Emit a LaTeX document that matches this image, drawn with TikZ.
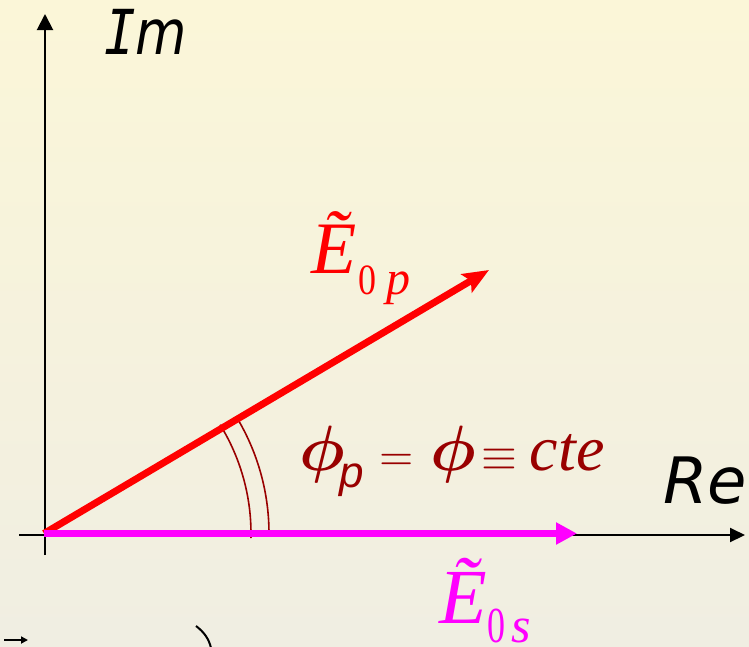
\documentclass[tikz,border=0pt]{standalone}
\usepackage{fontspec}
\usepackage{unicode-math}
\setmainfont{Liberation Serif}
\newfontfamily\verd{DejaVu Sans}
\newfontfamily\verdmono{DejaVu Sans Mono}
\newfontfamily\arialf{Liberation Sans}
\usetikzlibrary{arrows.meta}
\definecolor{bgtop}{HTML}{FBF6D8}
\definecolor{bgbot}{HTML}{F0EEE2}
\definecolor{darkred}{HTML}{990000}
\definecolor{vecred}{HTML}{FF0000}
\definecolor{vecmag}{HTML}{FF00FF}
\tikzset{
  axis/.style={line width=2pt, black},
  lbl/.style={inner sep=0pt, anchor=base west},
  anglearc/.style={line width=1.6pt, darkred},
}
\begin{document}
\begin{tikzpicture}[x=1pt,y=-1pt]
\useasboundingbox (0,0) rectangle (749,646);
\clip (0,0) rectangle (749,646);
\shade[top color=bgtop, bottom color=bgbot] (0,0) rectangle (749,646);
% coordinates
\coordinate (O) at (44,533.5);
\coordinate (ybot) at (45,555);
\coordinate (ytop) at (45,14);
\coordinate (xleft) at (19,535);
\coordinate (xright) at (745,535);
\coordinate (ptip) at (489,270);
\coordinate (stip) at (577,533.5);
% axes
\draw[axis, -{Triangle[length=16pt,width=16pt]}] (ybot) -- (ytop);
\draw[axis, -{Triangle[length=15pt,width=14pt]}] (xleft) -- (xright);
% angle arcs
\draw[anglearc] (O) ++(1.3:207) arc[start angle=1.3, end angle=-31.7, radius=207];
\draw[anglearc] (O) ++(-0.6:225) arc[start angle=-0.6, end angle=-31.4, radius=225];
% vectors
\draw[line width=7pt, vecred, -{Stealth[length=26pt,width=21pt,inset=5pt]}] (O) -- (ptip);
\draw[line width=7pt, vecmag, -{Triangle[length=21pt,width=21pt]}] (O) -- (stip);
% labels
\node[lbl] (im) at (104,54) {\scalebox{0.85}[1]{\fontsize{62}{62}\selectfont{\verdmono\itshape I}{\verd\itshape m}}};
\node[lbl] (re) at (663,503) {\fontsize{64}{64}\selectfont\verd\itshape Re};
\node[lbl, text=vecred] (ep) at (311,273) {\fontsize{74}{74}\selectfont\itshape Ẽ\hspace{2pt}\raisebox{-21pt}{\scalebox{1}[1.2]{\fontsize{36}{36}\selectfont\upshape 0}\hspace{10pt}{\fontsize{48}{48}\selectfont\itshape p}}};
\node[lbl, text=vecmag] (es) at (439,623) {\fontsize{78}{78}\selectfont\itshape Ẽ\hspace{1pt}\raisebox{-19pt}{\scalebox{1}[1.4]{\fontsize{36}{36}\selectfont\upshape 0}\hspace{6pt}{\fontsize{50}{50}\selectfont\itshape s}}};
\node[lbl, text=darkred] (phi) at (299,470) {\fontsize{64}{64}\selectfont$\symbfit{\phi}$\hspace{-5pt}\raisebox{-17pt}{\arialf\itshape\fontsize{44}{44}\selectfont p}\hspace{15pt}{\fontsize{44}{44}\selectfont$=$}\hspace{17pt}$\symbfit{\phi}$\hspace{5pt}{\fontsize{46}{46}\selectfont$\equiv$}\hspace{13pt}{\fontsize{64}{64}\selectfont\itshape cte}};
% cropped fragments at the bottom edge
\coordinate (fa1) at (4,640);
\coordinate (fa2) at (28,640);
\draw[line width=2pt, -{Triangle[length=7pt,width=7pt]}] (fa1) -- (fa2);
\coordinate (fb1) at (196,626);
\coordinate (fb2) at (211,648);
\draw[line width=2pt] (fb1) .. controls (204,632) and (209,639) .. (fb2);
\end{tikzpicture}
\end{document}
